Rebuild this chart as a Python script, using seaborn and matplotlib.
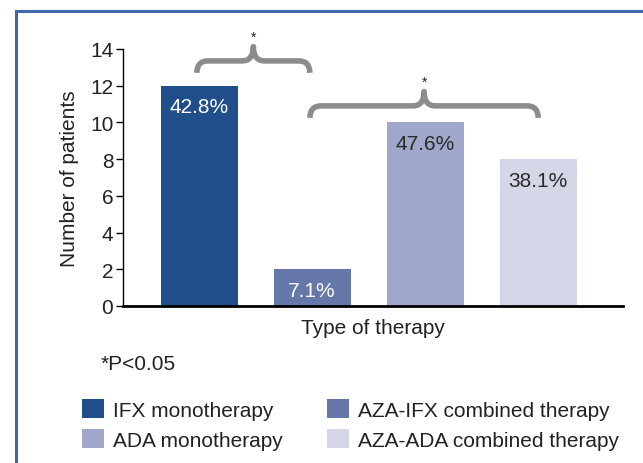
import numpy as np
import pandas as pd
import seaborn as sns
import matplotlib.pyplot as plt
from matplotlib.path import Path
from matplotlib.patches import PathPatch, Patch, Rectangle

# data
therapies = ["IFX monotherapy", "AZA-IFX combined therapy",
             "ADA monotherapy", "AZA-ADA combined therapy"]
patients = [12, 2, 10, 8]
pct_labels = ["42.8%", "7.1%", "47.6%", "38.1%"]
bar_colors = ["#1F4E8A", "#6677A9", "#A0A7CB", "#D5D7E9"]
label_colors = ["white", "white", "#2a2a2a", "#2a2a2a"]
# significance brackets: (left bar, right bar, height of the brace line)
comparisons = [(0, 1, 13.35), (1, 3, 10.9)]

sns.set_style("white")
plt.rcParams["font.family"] = ["Liberation Sans", "DejaVu Sans"]
TXT = "#222222"
FS = 15

df = pd.DataFrame({"therapy": therapies, "patients": patients})

fig = plt.figure(figsize=(6.43, 4.64), dpi=100)
ax = fig.add_axes([0.1913, 0.3384, 0.7776, 0.5539])

sns.barplot(data=df, x="therapy", y="patients", hue="therapy",
            palette=bar_colors, width=0.68, legend=False, ax=ax,
            saturation=1, edgecolor="none")

for i, (h, lab, c) in enumerate(zip(patients, pct_labels, label_colors)):
    ax.annotate(lab, (i, h), xytext=(0, -8.5), textcoords="offset points",
                ha="center", va="top", fontsize=FS, color=c)

ax.set_xlim(-0.673, 3.75)
ax.set_ylim(0, 14)
ax.set_yticks(range(0, 15, 2))
ax.set_xticks([])
ax.set_xlabel("Type of therapy", fontsize=FS, color=TXT, labelpad=9)
ax.set_ylabel("Number of patients", fontsize=FS, color=TXT, labelpad=8)
ax.tick_params(axis="y", left=True, length=5, width=1, color="black",
               labelsize=FS, labelcolor=TXT, pad=2)
for s in ["top", "right"]:
    ax.spines[s].set_visible(False)
ax.spines["left"].set_color("black")
ax.spines["left"].set_linewidth(1)
ax.spines["bottom"].set_color("black")
ax.spines["bottom"].set_linewidth(2)


def brace(ax, x0, x1, yh, depth=0.65, peak=0.78, rx=0.1):
    xm = (x0 + x1) / 2
    yb = yh - depth
    yp = yh + peak
    verts = [(x0, yb), (x0, yh), (x0 + rx, yh),
             (xm - rx, yh), (xm, yh), (xm, yp),
             (xm, yh), (xm + rx, yh),
             (x1 - rx, yh), (x1, yh), (x1, yb)]
    codes = [Path.MOVETO, Path.CURVE3, Path.CURVE3,
             Path.LINETO, Path.CURVE3, Path.CURVE3,
             Path.CURVE3, Path.CURVE3,
             Path.LINETO, Path.CURVE3, Path.CURVE3]
    ax.add_patch(PathPatch(Path(verts, codes), fill=False, lw=4,
                           edgecolor="#8C8C8C", capstyle="butt",
                           joinstyle="round", clip_on=False))
    ax.text(xm, yp + 0.55, "*", ha="center", va="center", fontsize=10,
            color=TXT, clip_on=False)


for a, b, yh in comparisons:
    brace(ax, a - 0.02, b - 0.02 if a == 0 else b, yh)

fig.text(101 / 643, 1 - 365 / 464, "*P<0.05", fontsize=FS, color=TXT,
         va="center", ha="left")

order = [0, 2, 1, 3]
handles = [Patch(facecolor=bar_colors[k], edgecolor="none") for k in order]
labels = [therapies[k] for k in order]
fig.legend(handles, labels, ncol=2, loc="upper left",
           bbox_to_anchor=(82 / 643, 1 - 400 / 464), frameon=False,
           fontsize=FS, handlelength=1.05, handleheight=1.05,
           handletextpad=0.45, columnspacing=2.1, labelspacing=0.45,
           borderaxespad=0, borderpad=0, labelcolor=TXT)

# outer frame of the figure panel (runs off the right and bottom)
fig.patches.append(Rectangle((16 / 643, -0.1), 1.2, 1 - 12 / 464 + 0.1,
                             transform=fig.transFigure, fill=False,
                             edgecolor="#3F67AB", lw=2.2))

fig.savefig("out.png", dpi=100)
